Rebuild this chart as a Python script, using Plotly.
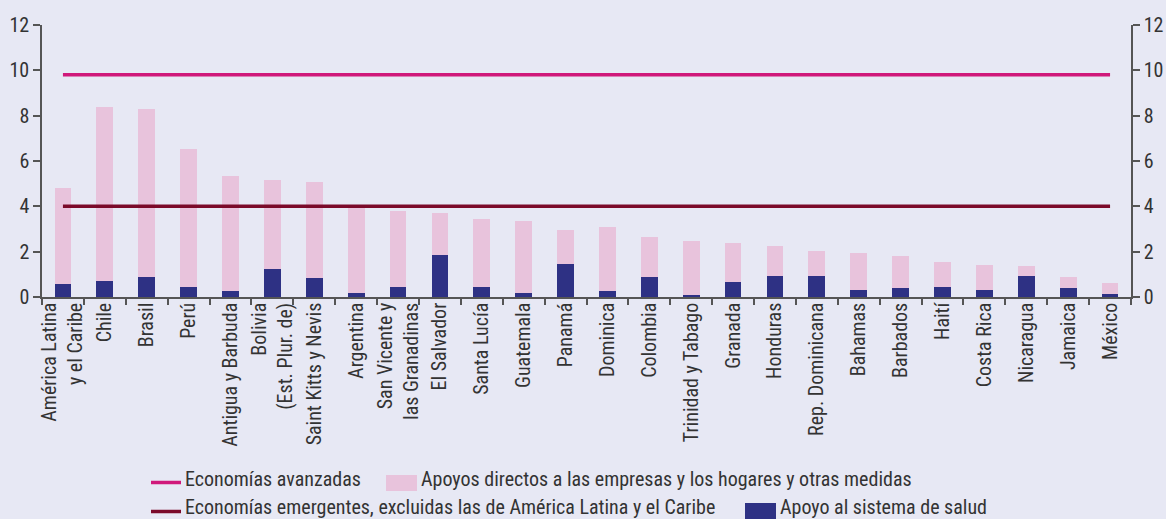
import plotly.graph_objects as go

categories = [
    "América Latina<br>y el Caribe", "Chile", "Brasil", "Perú", "Antigua y Barbuda",
    "Bolivia<br>(Est. Plur. de)", "Saint Kitts y Nevis", "Argentina",
    "San Vicente y<br>las Granadinas", "El Salvador", "Santa Lucía", "Guatemala",
    "Panamá", "Dominica", "Colombia", "Trinidad y Tabago", "Granada", "Honduras",
    "Rep. Dominicana", "Bahamas", "Barbados", "Haití", "Costa Rica", "Nicaragua",
    "Jamaica", "México",
]
salud = [0.56, 0.69, 0.87, 0.43, 0.25, 1.25, 0.82, 0.19, 0.46, 1.87, 0.43, 0.19,
         1.47, 0.28, 0.87, 0.07, 0.66, 0.91, 0.91, 0.32, 0.41, 0.43, 0.29, 0.91,
         0.38, 0.15]
directos = [4.23, 7.68, 7.41, 6.12, 5.07, 3.93, 4.26, 3.76, 3.32, 1.83, 3.03, 3.15,
            1.50, 2.80, 1.77, 2.39, 1.74, 1.34, 1.11, 1.64, 1.40, 1.12, 1.11, 0.46,
            0.49, 0.47]
avanzadas = 9.8
emergentes = 4.0
y_ticks = [0, 2, 4, 6, 8, 10, 12]

name_salud = "Apoyo al sistema de salud"
name_directos = "Apoyos directos a las empresas y los hogares y otras medidas"
name_avanz = "Economías avanzadas"
name_emerg = "Economías emergentes, excluidas las de América Latina y el Caribe"

FONT = "Roboto Condensed, Roboto, sans-serif"
BG = "#E7E8F4"
AX = "#555555"
TXT = "#333333"
C_SALUD = "#2E3184"
C_DIR = "#E8C3DC"
C_AVZ = "#D0187A"
C_EMG = "#7B0A2A"

W, H = 1166, 519
L, R, T, B = 42, 35, 25, 222
PW, PH = W - L - R, H - T - B


def px(x):
    return (x - L) / PW


def py(y):
    return (H - B - y) / PH


fig = go.Figure()
fig.add_trace(go.Bar(x=categories, y=salud, name=name_salud, showlegend=False,
                     marker=dict(color=C_SALUD, line=dict(width=0)), width=0.4))
fig.add_trace(go.Bar(x=categories, y=directos, name=name_directos, showlegend=False,
                     marker=dict(color=C_DIR, line=dict(width=0)), width=0.4))
fig.add_trace(go.Scatter(x=categories, y=[avanzadas] * len(categories), mode="lines",
                         name=name_avanz, showlegend=False,
                         line=dict(color=C_AVZ, width=3.5)))
fig.add_trace(go.Scatter(x=categories, y=[emergentes] * len(categories), mode="lines",
                         name=name_emerg, showlegend=False,
                         line=dict(color=C_EMG, width=3.5)))
fig.add_trace(go.Scatter(x=[categories[0]], y=[None], yaxis="y2", showlegend=False,
                         hoverinfo="skip"))

axis_common = dict(showline=True, linecolor=AX, linewidth=1.5, ticks="outside",
                   tickcolor=AX, tickwidth=1.5, showgrid=False, zeroline=False,
                   automargin=False)

fig.update_layout(
    width=W, height=H,
    paper_bgcolor=BG, plot_bgcolor=BG,
    margin=dict(l=L, r=R, t=T, b=B),
    barmode="stack", showlegend=False,
    font=dict(family=FONT, size=20, color=TXT),
    xaxis=dict(type="category", range=[-0.5, len(categories) - 0.5], tickangle=-90,
               tickson="boundaries", ticklen=6, ticklabelstandoff=-4,
               tickfont=dict(size=20, color=TXT), **axis_common),
    yaxis=dict(range=[0, 12], tickvals=y_ticks, ticklen=7,
               tickfont=dict(size=20, color=TXT), **axis_common),
    yaxis2=dict(range=[0, 12], tickvals=y_ticks, overlaying="y", side="right", ticklen=7,
                tickfont=dict(size=20, color=TXT), **axis_common),
)

# legend (drawn manually to follow the reference layout)
leg_shapes = [
    dict(type="line", x0=px(151), x1=px(181), y0=py(482.5), y1=py(482.5),
         line=dict(color=C_AVZ, width=3.5)),
    dict(type="line", x0=px(151), x1=px(181), y0=py(511.5), y1=py(511.5),
         line=dict(color=C_EMG, width=3.5)),
    dict(type="rect", x0=px(386), x1=px(417), y0=py(475), y1=py(491),
         fillcolor=C_DIR, line=dict(width=0)),
    dict(type="rect", x0=px(745), x1=px(776), y0=py(503), y1=py(519),
         fillcolor=C_SALUD, line=dict(width=0)),
]
for s in leg_shapes:
    fig.add_shape(xref="paper", yref="paper", layer="above", **s)

leg_texts = [
    (name_avanz, 183, 479),
    (name_emerg, 183, 506.5),
    (name_directos, 419, 479),
    (name_salud, 778, 506.5),
]
for t, x, y in leg_texts:
    fig.add_annotation(text=t, x=px(x), y=py(y), xref="paper", yref="paper",
                       xanchor="left", yanchor="middle", showarrow=False,
                       font=dict(size=20, color=TXT, family=FONT))

fig.write_html("out.html", config={"displayModeBar": False},
               post_script="document.body.style.margin='0px';")
